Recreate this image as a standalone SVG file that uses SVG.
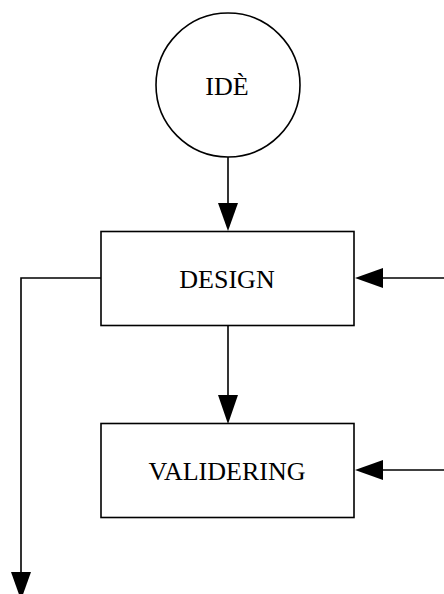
<svg xmlns="http://www.w3.org/2000/svg" width="444" height="594" viewBox="0 0 444 594">
<style>
.shape{fill:#fff;stroke:#000;stroke-width:1.6}
.lbl{font-family:"Liberation Serif","Times New Roman",serif;font-size:26px;fill:#000;text-anchor:middle}
.conn{fill:none;stroke:#000;stroke-width:1.6}
.head{fill:#000;stroke:none}
</style>
<rect width="444" height="594" fill="#fff"/>
<g id="connectors">
<line class="conn" x1="228" y1="157" x2="228" y2="204"/>
<polygon class="head" points="218,203 238,203 228,231"/>
<line class="conn" x1="228" y1="326" x2="228" y2="396"/>
<polygon class="head" points="218,395 238,395 228,424"/>
<polyline class="conn" points="101,278 21,278 21,573"/>
<polygon class="head" points="11,572 31,572 21,600"/>
<line class="conn" x1="444" y1="278" x2="382" y2="278"/>
<polygon class="head" points="383,268 383,288 355,278"/>
<line class="conn" x1="444" y1="470" x2="382" y2="470"/>
<polygon class="head" points="383,460 383,480 355,470"/>
</g>
<g id="node-ide">
<circle class="shape" cx="228" cy="85" r="72"/>
<text class="lbl" x="227" y="95">IDÈ</text>
</g>
<g id="node-design">
<rect class="shape" x="101" y="231.5" width="253" height="94"/>
<text class="lbl" x="227" y="288">DESIGN</text>
</g>
<g id="node-validering">
<rect class="shape" x="101" y="423.5" width="253" height="94"/>
<text class="lbl" x="227" y="480">VALIDERING</text>
</g>
</svg>
